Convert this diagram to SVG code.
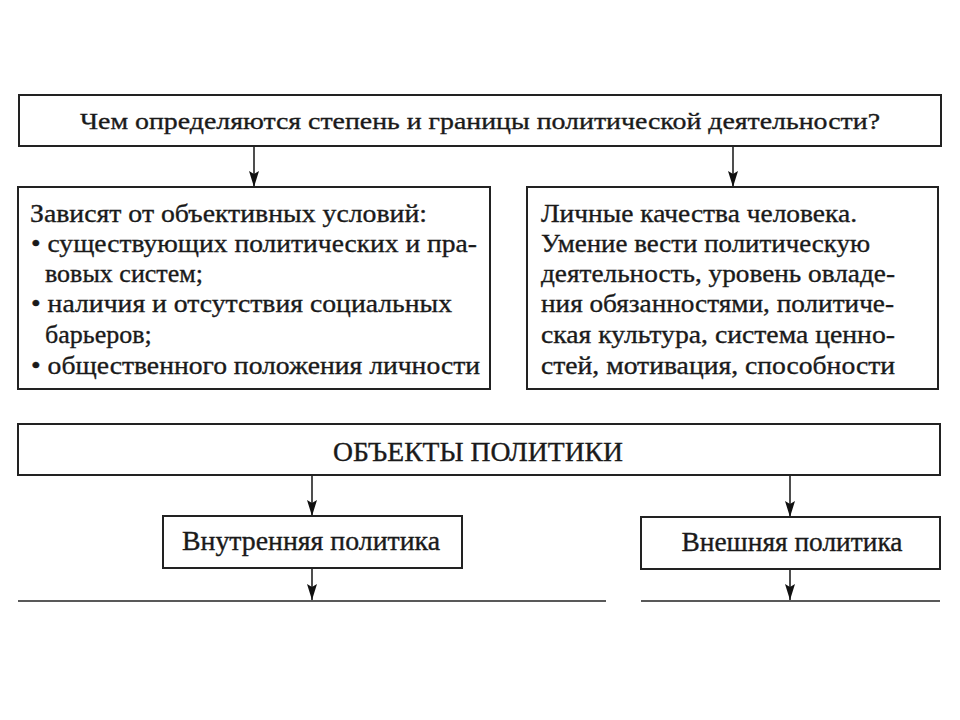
<svg xmlns="http://www.w3.org/2000/svg" width="960" height="720" viewBox="0 0 960 720">
<style>
.box{fill:#fff;stroke:#222;stroke-width:2}
.t,.q,.c{font-family:"Liberation Serif","Times New Roman","DejaVu Serif",serif;fill:#1a1a1a;stroke:#1a1a1a;stroke-width:0.35}
.t{font-size:26px}
.q{font-size:24px}
.c{font-size:27px}
.ln{stroke:#222;stroke-width:1.6;fill:none}
</style>
<defs>
<marker id="ah" markerWidth="16" markerHeight="10" refX="16" refY="5" orient="auto" markerUnits="userSpaceOnUse" viewBox="0 0 16 10">
<path d="M0,0 L16,5 L0,10 L3,5 Z" fill="#111"/>
</marker>
</defs>
<rect width="960" height="720" fill="#fff"/>
<g id="connectors">
<line class="ln" x1="254" y1="146" x2="254" y2="187" marker-end="url(#ah)"/>
<line class="ln" x1="733" y1="146" x2="733" y2="187" marker-end="url(#ah)"/>
<line class="ln" x1="312" y1="475" x2="312" y2="516" marker-end="url(#ah)"/>
<line class="ln" x1="790" y1="475" x2="790" y2="517" marker-end="url(#ah)"/>
<line class="ln" x1="312" y1="568" x2="312" y2="600" marker-end="url(#ah)"/>
<line class="ln" x1="790" y1="569" x2="790" y2="600" marker-end="url(#ah)"/>
<line class="ln" x1="18" y1="601" x2="606" y2="601"/>
<line class="ln" x1="641" y1="601" x2="940" y2="601"/>
</g>
<g id="question">
<rect class="box" x="19" y="95" width="922" height="51"/>
<text class="q" x="480" y="129" text-anchor="middle" textLength="800" lengthAdjust="spacingAndGlyphs">Чем определяются степень и границы политической деятельности?</text>
</g>
<g id="objective">
<rect class="box" x="18" y="187" width="472" height="202"/>
<text class="t" x="30" y="222" textLength="397" lengthAdjust="spacingAndGlyphs">Зависят от объективных условий:</text>
<text class="t" x="31" y="252" textLength="446" lengthAdjust="spacingAndGlyphs">• существующих политических и пра-</text>
<text class="t" x="45" y="282">вовых систем;</text>
<text class="t" x="31" y="312" textLength="421" lengthAdjust="spacingAndGlyphs">• наличия и отсутствия социальных</text>
<text class="t" x="45" y="343">барьеров;</text>
<text class="t" x="31" y="374" textLength="449" lengthAdjust="spacingAndGlyphs">• общественного положения личности</text>
</g>
<g id="personal">
<rect class="box" x="527" y="187" width="411" height="202"/>
<text class="t" x="541" y="222" textLength="316" lengthAdjust="spacingAndGlyphs">Личные качества человека.</text>
<text class="t" x="541" y="252" textLength="329" lengthAdjust="spacingAndGlyphs">Умение вести политическую</text>
<text class="t" x="541" y="282" textLength="354" lengthAdjust="spacingAndGlyphs">деятельность, уровень овладе-</text>
<text class="t" x="541" y="312" textLength="353" lengthAdjust="spacingAndGlyphs">ния обязанностями, политиче-</text>
<text class="t" x="541" y="343" textLength="354" lengthAdjust="spacingAndGlyphs">ская культура, система ценно-</text>
<text class="t" x="541" y="374" textLength="354" lengthAdjust="spacingAndGlyphs">стей, мотивация, способности</text>
</g>
<g id="objects">
<rect class="box" x="18" y="424" width="922" height="51"/>
<text class="c" x="478" y="461" text-anchor="middle" textLength="290" lengthAdjust="spacingAndGlyphs">ОБЪЕКТЫ ПОЛИТИКИ</text>
</g>
<g id="internal">
<rect class="box" x="163" y="516" width="299" height="52"/>
<text class="c" x="311" y="550" text-anchor="middle" textLength="258" lengthAdjust="spacingAndGlyphs">Внутренняя политика</text>
</g>
<g id="external">
<rect class="box" x="641" y="517" width="299" height="52"/>
<text class="c" x="792" y="551" text-anchor="middle" textLength="221" lengthAdjust="spacingAndGlyphs">Внешняя политика</text>
</g>
</svg>
